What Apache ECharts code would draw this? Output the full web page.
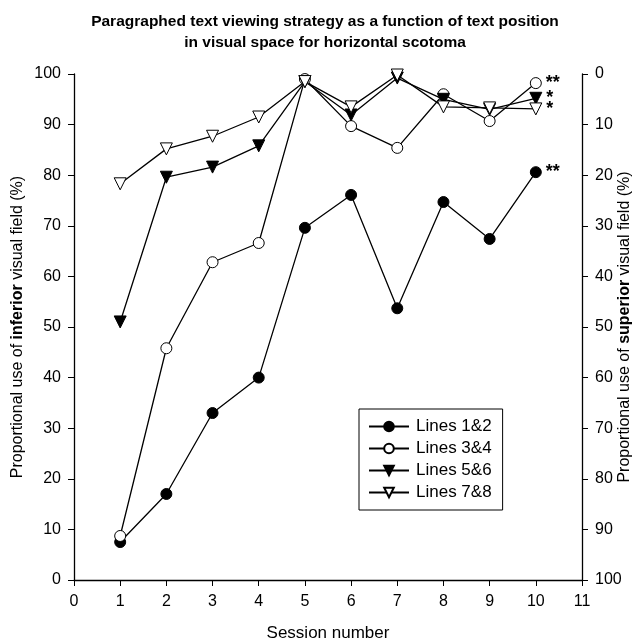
<!doctype html>
<html style="height: 100%; overflow: hidden">
<head>
<meta charset="utf-8">
<title>Paragraphed text viewing strategy</title>
<script src="https://cdn.jsdelivr.net/npm/echarts@6/dist/echarts.min.js"></script>
</head>
<body style="margin:0; height: 100%; overflow: hidden; background:#fff">
<div id="chart" style="width:640px; height:643px"></div>
<script>
// session numbers and per-line values (% use of inferior visual field)
const sessions = [1, 2, 3, 4, 5, 6, 7, 8, 9, 10]
const lines12 = [7.5, 17, 33, 40, 69.6, 76.1, 53.7, 74.7, 67.4, 80.6]
const lines34 = [8.7, 45.8, 62.8, 66.6, 99, 89.7, 85.4, 96, 90.7, 98.2]
const lines56 = [51, 79.6, 81.6, 85.8, 98.5, 91.9, 99.2, 95, 93, 95.2]
const lines78 = [78.3, 85.2, 87.7, 91.5, 98.5, 93.5, 99.8, 93.5, 93.3, 93.1]
const stars = ['**', '**', '*', '*']

const font = 'Liberation Sans, Arial, sans-serif'
const downTri = 'path://M0,0 L12,0 L6,10 Z'

function pairs(vals) {
    return vals.map((v, i) => [sessions[i], v])
}

function makeSeries(name, vals, symbol, fill, size, star) {
    const data = pairs(vals)
    const last = data.length - 1
    return {
        name: name,
        type: 'line',
        data: data.map((d, i) => i === last ? {
            value: d,
            label: {
                show: true, position: 'right', distance: 4, formatter: star,
                color: '#000', fontSize: 18, fontWeight: 'bold', fontFamily: font
            }
        } : d),
        symbol: symbol,
        symbolSize: size,
        showAllSymbol: true,
        lineStyle: { color: '#000', width: 1.3 },
        itemStyle: { color: fill, borderColor: '#000', borderWidth: 1 },
        emphasis: { disabled: true },
        animation: false
    }
}

const axisName = (word) => ({
    name: '{a|Proportional use of }{b|' + word + '}{a| visual field (%)}',
    nameLocation: 'middle', nameRotate: 90, nameMoveOverlap: false,
    nameTextStyle: {
        rich: {
            a: { fontFamily: font, fontSize: 16, color: '#000' },
            b: { fontFamily: font, fontSize: 16, color: '#000', fontWeight: 'bold' }
        }
    }
})

const chart = echarts.init(document.getElementById('chart'))
chart.setOption({
    title: {
        text: 'Paragraphed text viewing strategy as a function of text position\nin visual space for horizontal scotoma',
        left: 320, textAlign: 'center', top: 6,
        textStyle: { fontFamily: font, fontSize: 15.5, fontWeight: 'bold', color: '#000', lineHeight: 21 }
    },
    legend: {
        orient: 'vertical', left: 359, top: 409,
        padding: [9, 11, 9, 9],
        itemGap: 5,
        itemWidth: 40, itemHeight: 12,
        borderColor: '#000', borderWidth: 1,
        textStyle: { fontFamily: font, fontSize: 17, color: '#000', padding: [0, 0, 0, 2] },
        data: ['Lines 1&2', 'Lines 3&4', 'Lines 5&6', 'Lines 7&8']
    },
    grid: { left: 74, right: 58, top: 74, bottom: 63, containLabel: false, outerBoundsMode: 'none' },
    xAxis: {
        type: 'value', min: 0, max: 11, interval: 1,
        name: 'Session number', nameLocation: 'middle', nameGap: 45, nameMoveOverlap: false,
        nameTextStyle: { fontFamily: font, fontSize: 17, color: '#000' },
        axisLine: { onZero: false, lineStyle: { color: '#000', width: 1.3 } },
        axisTick: { length: 6, lineStyle: { color: '#000' } },
        axisLabel: { fontFamily: font, fontSize: 16, color: '#000', margin: 14 },
        splitLine: { show: false }
    },
    yAxis: [Object.assign({
        type: 'value', min: 0, max: 100, interval: 10,
        nameGap: 48,
        axisLine: { show: true, lineStyle: { color: '#000', width: 1.3 } },
        axisTick: { show: true, length: 6, lineStyle: { color: '#000' } },
        axisLabel: { fontFamily: font, fontSize: 16, color: '#000', margin: 13 },
        splitLine: { show: false }
    }, axisName('inferior')), Object.assign({
        type: 'value', min: 0, max: 100, interval: 10, inverse: true, position: 'right',
        nameGap: 35,
        axisLine: { show: true, lineStyle: { color: '#000', width: 1.3 } },
        axisTick: { show: true, length: 6, lineStyle: { color: '#000' } },
        axisLabel: { fontFamily: font, fontSize: 16, color: '#000', margin: 13 },
        splitLine: { show: false }
    }, axisName('superior'))],
    series: [
        makeSeries('Lines 1&2', lines12, 'circle', '#000', 11, stars[0]),
        makeSeries('Lines 3&4', lines34, 'circle', '#fff', 11, stars[1]),
        makeSeries('Lines 5&6', lines56, downTri, '#000', 12, stars[2]),
        makeSeries('Lines 7&8', lines78, downTri, '#fff', 12, stars[3])
    ]
})
</script>
</body>
</html>
